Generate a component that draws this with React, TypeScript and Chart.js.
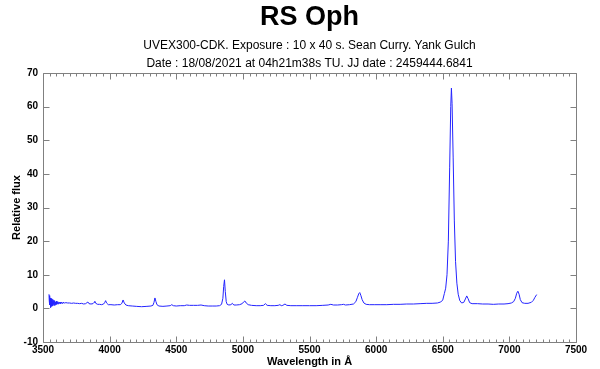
import React, { useEffect, useRef } from 'react';
import { Chart, registerables } from 'chart.js';

Chart.register(...registerables);

const titleText = 'RS Oph';
const subtitleLines = [
  'UVEX300-CDK. Exposure : 10 x 40 s. Sean Curry. Yank Gulch',
  'Date : 18/08/2021 at 04h21m38s TU. JJ date : 2459444.6841',
];
const xAxisTitle = 'Wavelength in Å';
const yAxisTitle = 'Relative flux';

const xMin = 3500;
const xMax = 7500;
const xMajorStep = 500;
const xMinorStep = 50;
const yMin = -10;
const yMax = 70;
const yMajorStep = 10;

const wavelengths = [
  3545, 3547, 3549, 3551, 3553, 3555, 3557, 3559, 3561, 3563, 3565, 3567, 3569, 3571, 3573, 3575,
  3577, 3579, 3581, 3583, 3585, 3587, 3589, 3591, 3594, 3597, 3600, 3603, 3606, 3609, 3612, 3616,
  3620, 3624, 3628, 3633, 3638, 3644, 3650, 3660, 3672, 3685, 3700, 3715, 3730, 3745, 3760, 3775,
  3790, 3805, 3820, 3830, 3837, 3845, 3860, 3875, 3883, 3889, 3896, 3910, 3925, 3940, 3955, 3964,
  3970, 3977, 3990, 4010, 4035, 4060, 4080, 4092, 4101, 4110, 4122, 4140, 4170, 4200, 4240, 4280,
  4310, 4325, 4333, 4340, 4347, 4355, 4370, 4400, 4430, 4455, 4466, 4478, 4500, 4530, 4560, 4578,
  4600, 4630, 4660, 4686, 4710, 4740, 4770, 4800, 4825, 4840, 4850, 4856, 4862, 4868, 4875, 4882,
  4895, 4910, 4921, 4932, 4950, 4975, 4995, 5005, 5015, 5025, 5040, 5065, 5100, 5130, 5155, 5169,
  5182, 5210, 5240, 5265, 5278, 5288, 5300, 5316, 5330, 5360, 5400, 5450, 5500, 5550, 5600, 5640,
  5660, 5680, 5710, 5740, 5755, 5770, 5800, 5830, 5848, 5860, 5870, 5877, 5885, 5895, 5908, 5925,
  5950, 5990, 6030, 6080, 6130, 6180, 6230, 6280, 6330, 6380, 6420, 6460, 6485, 6500, 6512, 6522,
  6532, 6542, 6552, 6560, 6565, 6570, 6578, 6587, 6596, 6606, 6616, 6628, 6642, 6658, 6670, 6680,
  6690, 6702, 6720, 6760, 6800, 6840, 6880, 6920, 6960, 6990, 7015, 7032, 7045, 7055, 7064, 7073,
  7082, 7095, 7115, 7140, 7165, 7180, 7192, 7205,
];

const flux = [
  4.2, 2.2, 3.8, 1.0, 3.1, 0.2, 2.6, 0.9, 2.9, 1.1, 2.4, 0.6, 2.1, 1.3, 2.7, 0.8,
  2.0, 1.2, 2.4, 0.9, 1.9, 1.4, 2.3, 1.0, 1.9, 1.3, 2.1, 1.2, 1.8, 1.4, 2.0, 1.3,
  1.9, 1.5, 1.8, 1.4, 1.9, 1.5, 1.8, 1.6, 1.7, 1.6, 1.6, 1.5, 1.6, 1.5, 1.5, 1.4,
  1.5, 1.3, 1.4, 1.7, 1.9, 1.4, 1.3, 1.4, 1.8, 2.1, 1.5, 1.2, 1.2, 1.1, 1.3, 1.8,
  2.3, 1.6, 1.1, 1.1, 1.0, 1.1, 1.1, 1.5, 2.5, 1.6, 1.0, 0.8, 0.7, 0.6, 0.5, 0.6,
  0.7, 0.9, 1.8, 3.1, 2.1, 1.1, 0.7, 0.6, 0.7, 0.8, 1.1, 0.8, 0.7, 0.8, 0.8, 1.0,
  0.9, 0.9, 0.9, 1.0, 0.8, 0.7, 0.7, 0.7, 0.8, 1.2, 3.0, 6.5, 8.5, 5.0, 2.0, 1.2,
  1.0, 1.1, 1.5, 1.0, 1.0, 1.1, 1.4, 1.9, 2.2, 1.6, 1.1, 0.9, 0.8, 0.8, 0.9, 1.4,
  0.9, 0.8, 0.8, 0.9, 1.1, 0.8, 0.9, 1.3, 0.9, 0.8, 0.8, 0.8, 0.8, 0.8, 0.9, 1.0,
  1.2, 1.0, 1.0, 1.1, 1.2, 1.0, 1.1, 1.3, 2.0, 3.3, 4.4, 4.7, 3.9, 2.6, 1.6, 1.2,
  1.1, 1.1, 1.1, 1.1, 1.2, 1.2, 1.3, 1.3, 1.4, 1.5, 1.5, 1.6, 1.9, 2.5, 4.4, 6.0,
  10.0, 20.0, 42.0, 60.0, 65.5, 61.0, 45.0, 26.0, 14.0, 7.5, 4.2, 2.3, 1.6, 1.8, 2.8, 3.7,
  2.9, 1.7, 1.4, 1.4, 1.3, 1.3, 1.2, 1.3, 1.3, 1.4, 1.6, 2.0, 3.0, 4.5, 5.1, 4.2,
  2.6, 1.7, 1.5, 1.5, 1.8, 2.4, 3.3, 4.1,
];

const FONT = "'Liberation Sans', Arial, Helvetica, sans-serif";
const FRAME_COLOR = '#808080';

const framePlugin = {
  id: 'idlFrame',
  afterDraw(chart: any) {
    const { ctx, chartArea: a, scales } = chart;
    const xs = scales.x;
    const ys = scales.y;
    ctx.save();
    ctx.strokeStyle = FRAME_COLOR;
    ctx.lineWidth = 1;
    const L = Math.round(a.left) + 0.5;
    const R = Math.round(a.right) + 0.5;
    const T = Math.round(a.top) + 0.5;
    const B = Math.round(a.bottom) + 0.5;
    ctx.beginPath();
    ctx.rect(L, T, R - L, B - T);
    for (let v = xMin; v <= xMax; v += xMinorStep) {
      const px = Math.round(xs.getPixelForValue(v)) + 0.5;
      const len = v % xMajorStep === 0 ? 6 : 3;
      ctx.moveTo(px, B);
      ctx.lineTo(px, B - len);
      ctx.moveTo(px, T);
      ctx.lineTo(px, T + len);
    }
    for (let v = yMin; v <= yMax; v += yMajorStep) {
      const py = Math.round(ys.getPixelForValue(v)) + 0.5;
      ctx.moveTo(L, py);
      ctx.lineTo(L + 6, py);
      ctx.moveTo(R, py);
      ctx.lineTo(R - 6, py);
    }
    ctx.stroke();
    ctx.restore();
  },
};

export default function App() {
  const canvasRef = useRef<HTMLCanvasElement | null>(null);

  useEffect(() => {
    const canvas = canvasRef.current;
    if (!canvas) return;
    const points = wavelengths.map((w, i) => ({ x: w, y: flux[i] }));
    const chart = new Chart(canvas, {
      type: 'line',
      data: {
        datasets: [
          {
            label: 'RS Oph',
            data: points,
            borderColor: '#2424ff',
            borderWidth: 1,
            pointRadius: 0,
            tension: 0,
            fill: false,
          },
        ],
      },
      options: {
        animation: false,
        responsive: false,
        events: [],
        layout: { padding: { left: 0, right: 24, top: 0, bottom: 0 } },
        plugins: {
          legend: { display: false },
          tooltip: { enabled: false },
          title: {
            display: true,
            text: titleText,
            fullSize: false,
            color: '#000',
            font: { family: FONT, size: 27, weight: 'bold', lineHeight: 1.0 },
            padding: { top: 4, bottom: 4 },
          },
          subtitle: {
            display: true,
            text: subtitleLines,
            fullSize: false,
            color: '#000',
            font: { family: FONT, size: 12, weight: 'normal', lineHeight: 1.5 },
            padding: { top: 2, bottom: 0 },
          },
        },
        scales: {
          x: {
            type: 'linear',
            min: xMin,
            max: xMax,
            afterFit: (s: any) => {
              s.height = 27;
            },
            grid: { display: false, drawTicks: false },
            border: { display: false },
            ticks: {
              stepSize: xMajorStep,
              color: '#000',
              padding: 2,
              maxRotation: 0,
              autoSkip: false,
              callback: (v: any) => String(v),
              font: { family: FONT, size: 10, weight: 'bold' },
            },
            title: {
              display: true,
              text: xAxisTitle,
              color: '#000',
              font: { family: FONT, size: 11, weight: 'bold', lineHeight: 1.2 },
              padding: { top: 0, bottom: 0 },
            },
          },
          y: {
            type: 'linear',
            min: yMin,
            max: yMax,
            afterFit: (s: any) => {
              s.width = 43;
            },
            grid: { display: false, drawTicks: false },
            border: { display: false },
            ticks: {
              stepSize: yMajorStep,
              color: '#000',
              padding: 5,
              callback: (v: any) => String(v),
              font: { family: FONT, size: 10, weight: 'bold' },
            },
            title: {
              display: true,
              text: yAxisTitle,
              color: '#000',
              font: { family: FONT, size: 11, weight: 'bold', lineHeight: 1.2 },
              padding: { top: 10, bottom: 0 },
            },
          },
        },
      },
      plugins: [framePlugin],
    });
    return () => chart.destroy();
  }, []);

  return (
    <div style={{ position: 'absolute', left: 0, top: 0, width: 600, height: 369, background: '#fff' }}>
      <canvas ref={canvasRef} width={600} height={369} style={{ display: 'block', width: 600, height: 369 }} />
    </div>
  );
}
